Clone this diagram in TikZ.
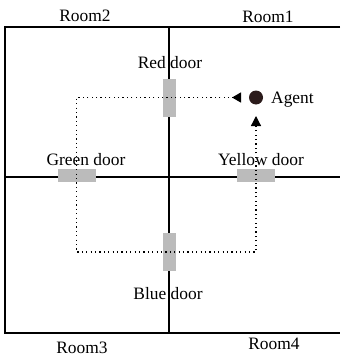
\documentclass[tikz,border=0pt]{standalone}
\usepackage{fontspec}
\setmainfont{Liberation Serif}
\usetikzlibrary{arrows.meta}
\definecolor{doorgray}{HTML}{BBBBBB}
\definecolor{agentcol}{HTML}{2B1B1B}
\tikzset{door/.style={draw=none, fill=doorgray, inner sep=0pt},
  vdoor/.style={door, minimum width=13pt, minimum height=38pt},
  hdoor/.style={door, minimum width=38pt, minimum height=13pt},
  lbl/.style={font=\fontsize{17.4}{20}\selectfont, inner sep=0pt, anchor=base},
  route/.style={line width=1.2pt, dash pattern=on 1.2pt off 3.2pt}}

\begin{document}
\begin{tikzpicture}[x=1pt,y=-1pt]
\useasboundingbox (0,0) rectangle (340,356);
% walls
\draw[line width=1.4pt] (169,27)--(169,333) (5,177)--(340,177);
\draw[line width=2.6pt] (340,27)--(5,27)--(5,333)--(340,333);
% doors
\node[vdoor] (reddoor) at (169.5,98) {};
\node[hdoor] (greendoor) at (76.5,175.5) {};
\node[hdoor] (yellowdoor) at (256,175.5) {};
\node[vdoor] (bluedoor) at (169.5,252) {};
% agent
\node[circle, fill=agentcol, inner sep=0pt, minimum size=14pt] (agent) at (256,97.5) {};
\node[lbl, anchor=base west] (agentlbl) at (271,103) {Agent};
% labels
\node[lbl] (room2) at (85,21.5) {Room2};
\node[lbl] (room1) at (268,23) {Room1};
\node[lbl] (redlbl) at (170,68) {Red door};
\node[lbl] (greenlbl) at (86,165) {Green door};
\node[lbl] (yellowlbl) at (261,165) {Yellow door};
\node[lbl] (bluelbl) at (168,299) {Blue door};
\node[lbl] (room3) at (82,353) {Room3};
\node[lbl] (room4) at (274,349) {Room4};
% route
\coordinate (start) at (241,97.5);
\coordinate (finish) at (256,116);
\draw[route, {Triangle[reversed,length=9pt,width=10pt]}-{Triangle[length=10pt,width=10pt]}]
  (start) -- (greendoor |- agent) -- (greendoor |- bluedoor) -- (yellowdoor |- bluedoor) -- (finish);
\end{tikzpicture}
\end{document}
